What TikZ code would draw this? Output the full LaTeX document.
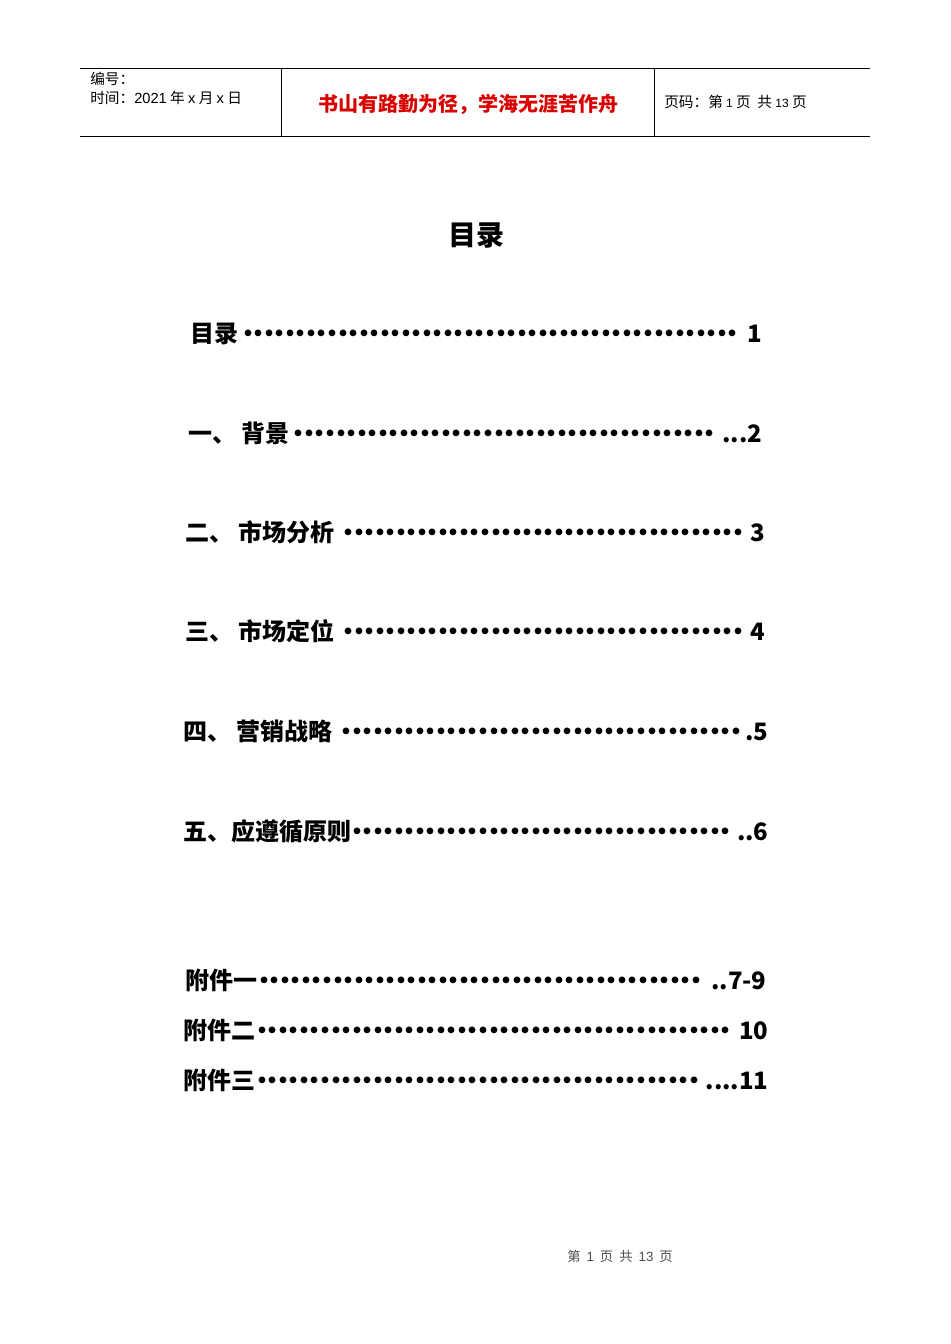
\documentclass[tikz,border=0pt]{standalone}
\usepackage{fontspec}
\setmainfont{Liberation Serif}
\newfontfamily\cjk{Noto Sans CJK SC}
\newfontfamily\hsans{Liberation Sans}
\newcommand{\tocline}[3]{\hbox to #1{\cjk\bfseries #2\leaders\hbox to 7.9pt{\hss\bfseries\raisebox{0pt}{·}\hss}\hfill\bfseries #3}}
\begin{document}
\begin{tikzpicture}[x=0.75pt,y=-0.75pt,
  hdr/.style={inner sep=0pt,anchor=base west,font=\cjk\fontsize{11}{13}\selectfont},
  toc/.style={inner sep=0pt,anchor=base west,font=\fontsize{18}{20}\selectfont}]
\useasboundingbox (0,0) rectangle (950,1344);
\draw[line width=0.7pt] (80,68) coordinate (tl) -- (870,68) coordinate (tr);
\draw[line width=0.7pt] (80,136) coordinate (bl) -- (870,136) coordinate (br);
\draw[line width=0.7pt] (281,68) -- (281,136);
\draw[line width=0.7pt] (654,68) -- (654,136);
\node[hdr] (h1) at (90,85) {编号：};
\node[hdr] (h2) at (90,104) {时间：{\hsans 2021} 年 {\hsans x} 月 {\hsans x} 日};
\node[inner sep=0pt,text=red!85!black,font=\cjk\bfseries\fontsize{15}{17}\selectfont] (motto) at (468,104) {书山有路勤为径，学海无涯苦作舟};
\node[hdr] (h3) at (664,108) {页码：第 {\hsans\fontsize{9}{11}\selectfont 1} 页\ \ 共 {\hsans\fontsize{9}{11}\selectfont 13} 页};
\node[inner sep=0pt,font=\cjk\bfseries\fontsize{21}{24}\selectfont] (title) at (476,235) {目录};
\node[toc] (t1) at (190,342) {\tocline{429pt}{目录}{1}};
\node[toc] (t2) at (188,442) {\tocline{430.5pt}{一、 背景}{...2}};
\node[toc] (t3) at (185,541) {\tocline{435pt}{二、 市场分析}{3}};
\node[toc] (t4) at (185,640) {\tocline{435pt}{三、 市场定位}{4}};
\node[toc] (t5) at (183,740) {\tocline{439pt}{四、 营销战略}{.5}};
\node[toc] (t6) at (183,840) {\tocline{439pt}{五、应遵循原则}{..6}};
\node[toc] (t7) at (185,989) {\tocline{436pt}{附件一}{..7-9}};
\node[toc] (t8) at (183,1039) {\tocline{439pt}{附件二}{10}};
\node[toc] (t9) at (183,1089) {\tocline{439pt}{附件三}{....11}};
\node[inner sep=0pt,text=black!70,font=\cjk\fontsize{10}{12}\selectfont] (foot) at (620,1256) {第\ \ {\hsans 1}\ \ 页\ \ 共\ \ {\hsans 13}\ \ 页};
\end{tikzpicture}
\end{document}
